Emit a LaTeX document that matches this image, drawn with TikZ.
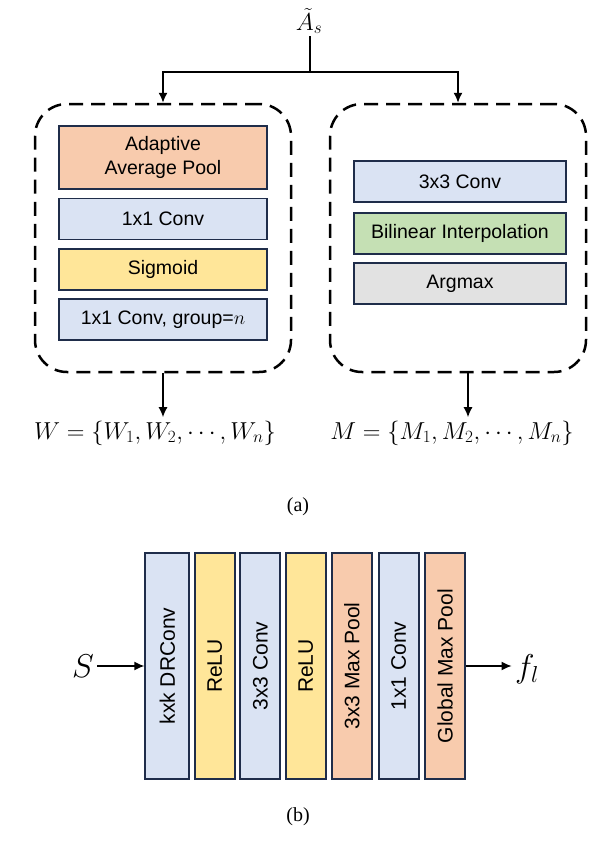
\RequirePackage{fix-cm}
\documentclass[tikz,border=0pt]{standalone}
\usepackage{fontspec}
\setmainfont{Liberation Serif}
\setsansfont{Liberation Sans}
\usepackage{tikz}
\usetikzlibrary{positioning,arrows.meta,calc}
\definecolor{blkNavy}{HTML}{1F2D4A}
\definecolor{blkBlue}{HTML}{DAE3F3}
\definecolor{blkOrange}{HTML}{F8CBAD}
\definecolor{blkYellow}{HTML}{FFE699}
\definecolor{blkGreen}{HTML}{C5E0B4}
\definecolor{blkGray}{HTML}{E2E2E2}

\begin{document}
\begin{tikzpicture}[
  x=1pt, y=-1pt,
  font=\sffamily,
  stage/.style={draw=blkNavy, line width=1.8pt, align=center, inner sep=2pt,
                font=\sffamily\fontsize{19.5}{24}\selectfont, minimum height=41pt},
  lstage/.style={stage, minimum width=208pt},
  rstage/.style={stage, minimum width=212pt},
  layer/.style={draw=blkNavy, line width=1.8pt, rotate=90, inner sep=2pt,
                font=\sffamily\fontsize{21}{24}\selectfont, minimum width=226pt, minimum height=40pt},
  group/.style={draw=black, line width=2.5pt, dash pattern=on 14pt off 8pt,
                rounded corners=32pt, minimum width=256pt, minimum height=268pt},
  formula/.style={font=\fontsize{24.5}{28}\selectfont},
  big/.style={font=\fontsize{33}{36}\selectfont},
  sub/.style={font=\fontsize{20}{24}\selectfont},
  flow/.style={-{Latex[length=10pt,width=9pt]}, line width=1.5pt},
]
\useasboundingbox (0,0) rectangle (590,862);

% Input
\node[formula, inner sep=2pt] (As) at (309,21) {$\tilde{A}_s$};
\coordinate (split) at (310,72);

% Branches
\node[group] (L) at (163,238) {};
\node[group] (R) at (458,238) {};

\node[lstage, fill=blkOrange, minimum height=63pt] (pool) at (163,157.5) {Adaptive\\Average Pool};
\node[lstage, fill=blkBlue]   (conv1) at (163,219)   {1x1 Conv};
\node[lstage, fill=blkYellow] (sig)   at (163,269.5) {Sigmoid};
\node[lstage, fill=blkBlue]   (conv2) at (163,319.5) {1x1 Conv, group=$n$};

\node[rstage, fill=blkBlue]   (conv3) at (460,181.5) {3x3 Conv};
\node[rstage, fill=blkGreen]  (bil)   at (460,233.5) {Bilinear Interpolation};
\node[rstage, fill=blkGray]   (amax)  at (460,283.5) {Argmax};

% Outputs
\node[formula] (W) at (155,433) {$W=\{W_1,W_2,\cdots,W_n\}$};
\node[formula] (M) at (452,433) {$M=\{M_1,M_2,\cdots,M_n\}$};
\node[sub] (capa) at (298,507) {(a)};

\draw[line width=1.5pt] (As.south -| split) -- (split);
\draw[flow] (split) -| (L.north);
\draw[flow] (split) -| (R.north);
\draw[flow] (L.south) -- (L.south |- W.north);
\draw[flow] ([xshift=10pt]R.south) -- ([xshift=10pt]R.south |- M.north);

% Feedback module
\node[big] (S) at (83,666) {$S$};
\node[layer, fill=blkBlue, minimum height=44pt] (b1) at (167.3,666) {kxk DRConv};
\node[layer, fill=blkYellow] (b2) at (214.8,666) {ReLU};
\node[layer, fill=blkBlue]   (b3) at (260.3,666) {3x3 Conv};
\node[layer, fill=blkYellow] (b4) at (305.8,666) {ReLU};
\node[layer, fill=blkOrange] (b5) at (351.8,666) {3x3 Max Pool};
\node[layer, fill=blkBlue]   (b6) at (398.6,666) {1x1 Conv};
\node[layer, fill=blkOrange] (b7) at (445.1,666) {Global Max Pool};
\node[big] (fl) at (527,669) {$f_l$};
\node[sub] (capb) at (298,817) {(b)};

\draw[flow] (S.east |- b1.center) -- (b1.north);
\draw[flow] (b7.south) -- (fl.west |- b7.south);

\end{tikzpicture}
\end{document}
